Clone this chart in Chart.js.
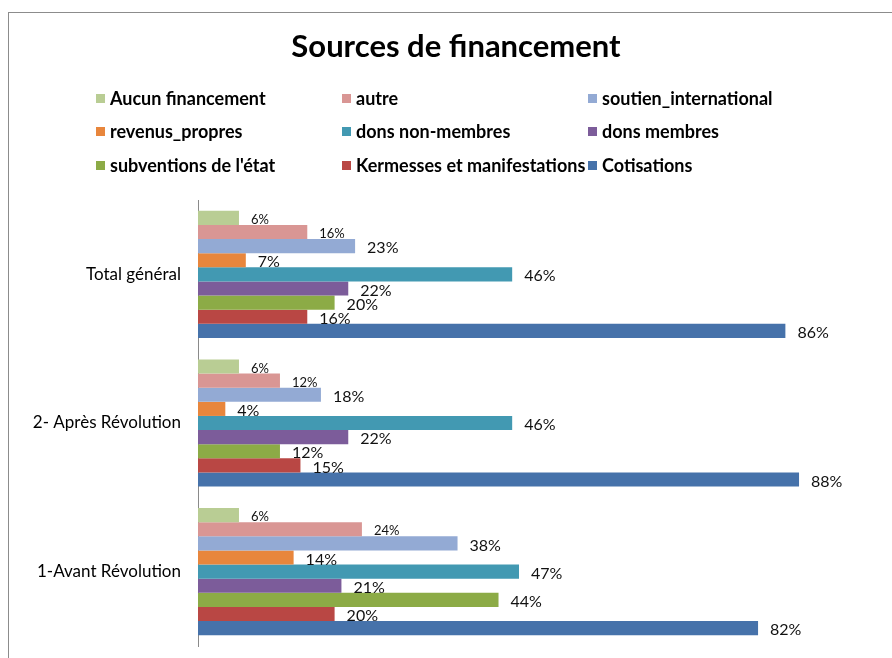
<!DOCTYPE html>
<html>
<head>
<meta charset="utf-8">
<script src="https://cdn.jsdelivr.net/npm/chart.js@4/dist/chart.umd.min.js"></script>
<style>
  body { margin: 0; background: #fff; }
  canvas { display: block; }
</style>
</head>
<body>
<canvas id="financeChart" width="892" height="658"></canvas>
<script>
// data (percent)
const categories = ['Total général', '2- Après Révolution', '1-Avant Révolution'];
const seriesNames = ['Aucun financement', 'autre', 'soutien_international',
  'revenus_propres', 'dons non-membres', 'dons membres',
  "subventions de l'état", 'Kermesses et manifestations', 'Cotisations'];
const aucunFinancement = [6, 6, 6];
const autre = [16, 12, 24];
const soutienInternational = [23, 18, 38];
const revenusPropres = [7, 4, 14];
const donsNonMembres = [46, 46, 47];
const donsMembres = [22, 22, 21];
const subventions = [20, 12, 44];
const kermesses = [16, 15, 20];
const cotisations = [86, 88, 82];

const seriesValues = [aucunFinancement, autre, soutienInternational, revenusPropres,
  donsNonMembres, donsMembres, subventions, kermesses, cotisations];
const colors = ['#b9cd94', '#d99694', '#93aad4', '#e8863c', '#4299b2',
  '#7c5c9a', '#8cab46', '#b94744', '#4672aa'];

const FONT = 'Lato, "DejaVu Sans", sans-serif';

// frame, title and the 3-column legend
const decorPlugin = {
  id: 'decor',
  beforeDraw(chart) {
    const ctx = chart.ctx;
    ctx.save();
    ctx.fillStyle = '#fff';
    ctx.fillRect(0, 0, chart.width, chart.height);
    ctx.strokeStyle = '#8c8c8c';
    ctx.lineWidth = 1;
    ctx.strokeRect(8.5, 12.5, chart.width + 10, chart.height + 10);
    ctx.restore();
  },
  afterDraw(chart) {
    const ctx = chart.ctx;
    ctx.save();
    ctx.fillStyle = '#000';
    ctx.textAlign = 'center';
    ctx.textBaseline = 'middle';
    ctx.font = 'bold 31px ' + FONT;
    ctx.fillText('Sources de financement', 456, 47);

    const colX = [96, 342, 588];
    const rowY = [98, 131, 165];
    ctx.font = 'bold 18px ' + FONT;
    ctx.textAlign = 'left';
    chart.data.datasets.forEach((ds, i) => {
      const x = colX[i % 3];
      const y = rowY[Math.floor(i / 3)];
      ctx.fillStyle = ds.backgroundColor;
      ctx.fillRect(x, y - 4, 9, 9);
      ctx.fillStyle = '#000';
      ctx.fillText(ds.label, x + 14, y + 1);
    });
    ctx.restore();
  }
};

// percentage labels at the end of each bar
const valueLabels = {
  id: 'valueLabels',
  afterDatasetsDraw(chart) {
    const ctx = chart.ctx;
    ctx.save();
    ctx.fillStyle = '#111';
    ctx.textAlign = 'left';
    ctx.textBaseline = 'middle';
    chart.data.datasets.forEach((ds, i) => {
      const meta = chart.getDatasetMeta(i);
      ctx.font = (i < 2 ? '13px ' : '16px ') + FONT;
      meta.data.forEach((bar, j) => {
        ctx.fillText(ds.data[j] + '%', bar.x + 12, bar.y + 2);
      });
    });
    ctx.restore();
  }
};

new Chart(document.getElementById('financeChart'), {
  type: 'bar',
  data: {
    labels: categories,
    datasets: seriesNames.map((name, i) => ({
      label: name,
      data: seriesValues[i],
      backgroundColor: colors[i],
      categoryPercentage: 0.855,
      barPercentage: 1.0
    }))
  },
  options: {
    indexAxis: 'y',
    responsive: false,
    animation: false,
    layout: { padding: { top: 200, right: 11, bottom: 12, left: 0 } },
    plugins: {
      legend: { display: false },
      title: { display: false },
      tooltip: { enabled: false }
    },
    scales: {
      x: { display: false, min: 0, max: 100 },
      y: {
        grid: { display: false, drawTicks: false },
        border: { display: true, color: '#8a8a8a', width: 1 },
        ticks: { color: '#000', font: { family: FONT, size: 17 }, padding: 17 },
        afterFit(scale) {
          scale.width = 198;
          scale.paddingTop = 0;
          scale.paddingBottom = 0;
        }
      }
    }
  },
  plugins: [decorPlugin, valueLabels]
});
</script>
</body>
</html>
